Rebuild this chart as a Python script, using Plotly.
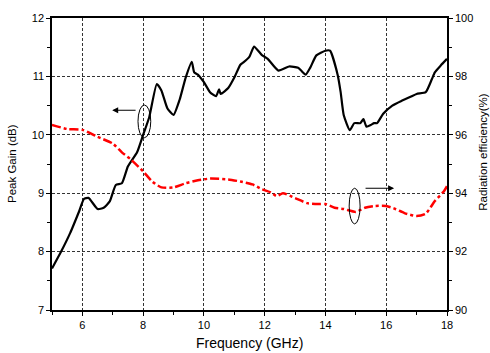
import plotly.graph_objects as go

freq_gain = [5.0, 5.3, 5.6, 5.9, 6.05, 6.2, 6.5, 6.7, 6.9, 7.1, 7.3, 7.5, 7.8, 8.0, 8.2, 8.45, 8.6, 8.8, 9.0, 9.2, 9.4, 9.6, 9.68, 9.8, 10.0, 10.2, 10.4, 10.5, 10.55,
             10.8, 11.0, 11.2, 11.3, 11.5, 11.65, 11.9, 12.1, 12.45, 12.8, 13.1, 13.2, 13.35, 13.5, 13.7, 14.0, 14.15, 14.4, 14.5, 14.6,
             14.8, 14.95, 15.15, 15.25, 15.35, 15.5, 15.6, 15.7, 15.9, 16.2, 16.5, 16.8, 17.0, 17.3, 17.5, 17.6, 17.8, 18.0]
peak_gain = [7.71, 8.0, 8.32, 8.7, 8.9, 8.92, 8.73, 8.75, 8.86, 9.14, 9.17, 9.46, 9.7, 10.0, 10.3, 10.87, 10.76, 10.45, 10.34, 10.6, 10.98, 11.25, 11.07, 11.03, 10.9, 10.73, 10.66, 10.78, 10.7,
             10.8, 10.98, 11.2, 11.24, 11.34, 11.51, 11.37, 11.3, 11.1, 11.17, 11.15, 11.1, 11.03, 11.15, 11.36, 11.44, 11.44, 11.03, 10.73, 10.34,
             10.08, 10.2, 10.2, 10.27, 10.14, 10.17, 10.2, 10.2, 10.36, 10.5, 10.58, 10.65, 10.7, 10.73, 10.95, 11.07, 11.19, 11.3]

freq_eff = [5.0, 5.5, 6.0, 6.5, 7.0, 7.3, 7.6, 8.0, 8.3, 8.6, 9.0, 9.4, 9.8, 10.2, 10.8, 11.2, 11.6, 11.9, 12.2, 12.4, 12.6,
            13.0, 13.4, 13.8, 14.0, 14.3, 14.6, 15.0, 15.3, 15.6, 16.0, 16.3, 16.6, 17.0, 17.3, 17.6, 17.9, 18.0]
efficiency = [96.34, 96.2, 96.17, 95.93, 95.7, 95.4, 95.15, 94.75, 94.4, 94.2, 94.2, 94.34, 94.44, 94.5, 94.47, 94.4, 94.3, 94.14, 94.03, 93.9, 94.0,
              93.83, 93.66, 93.63, 93.63, 93.5, 93.46, 93.36, 93.5, 93.56, 93.56, 93.46, 93.32, 93.22, 93.3, 93.73, 94.07, 94.24]

x_ticks = [6, 8, 10, 12, 14, 16, 18]
FONT = "Liberation Sans, Arial, sans-serif"

fig = go.Figure()
fig.add_trace(go.Scatter(x=freq_gain, y=peak_gain, mode="lines", line=dict(color="black", width=2.2, shape="spline", smoothing=0.5),
                         showlegend=False))
fig.add_trace(go.Scatter(x=freq_eff, y=efficiency, yaxis="y2", mode="lines",
                         line=dict(color="red", width=2.5, dash="dashdot", shape="spline", smoothing=0.6), showlegend=False))

axis_common = dict(showline=True, linecolor="black", linewidth=1.5, ticks="outside", ticklen=4, tickcolor="black",
                   tickfont=dict(family=FONT, size=11, color="black"), zeroline=False)
grid = dict(showgrid=True, gridcolor="#333", griddash="3px,2px", gridwidth=0.8)

fig.update_layout(
    width=490, height=353,
    margin=dict(l=52, r=43, t=15, b=43),
    paper_bgcolor="white", plot_bgcolor="white",
    font=dict(family=FONT, color="black"),
    xaxis=dict(range=[5, 18], tickvals=x_ticks, **grid,
               minor=dict(dtick=1, ticklen=3, tickcolor="black", showgrid=False), mirror=True, **axis_common),
    yaxis=dict(range=[7, 12], dtick=1, **grid,
               minor=dict(dtick=0.5, ticklen=3, tickcolor="black", showgrid=False), **axis_common),
    yaxis2=dict(range=[90, 100], dtick=2, overlaying="y", side="right", showgrid=False,
                minor=dict(dtick=1, ticklen=3, tickcolor="black", showgrid=False), **axis_common),
)

# axis titles
fig.add_annotation(text="Frequency (GHz)", xref="paper", yref="paper", x=0.5, y=0, yshift=-33, showarrow=False,
                   font=dict(size=14, family=FONT), yanchor="middle")
fig.add_annotation(text="Peak Gain (dB)", xref="paper", yref="paper", x=0, y=0.5, xshift=-40, textangle=-90, showarrow=False,
                   font=dict(size=11.5, family=FONT), xanchor="center")
fig.add_annotation(text="Radiation efficiency(%)", xref="paper", yref="paper", x=1, y=0.542, xshift=36, textangle=-90, showarrow=False,
                   font=dict(size=11.5, family=FONT), xanchor="center")

# ellipses and arrows
fig.add_shape(type="circle", xref="x", yref="y", x0=7.83, x1=8.25, y0=9.95, y1=10.51, line=dict(color="black", width=1))
fig.add_annotation(x=6.98, y=10.42, ax=7.8, ay=10.42, xref="x", yref="y", axref="x", ayref="y", text="", showarrow=True,
                   arrowhead=2, arrowsize=1, arrowwidth=1.2, arrowcolor="black")
fig.add_shape(type="circle", xref="x", yref="y2", x0=14.78, x1=15.14, y0=92.95, y1=94.17, line=dict(color="black", width=1))
fig.add_annotation(x=16.26, y=94.17, ax=15.27, ay=94.17, xref="x", yref="y2", axref="x", ayref="y2", text="", showarrow=True,
                   arrowhead=2, arrowsize=1, arrowwidth=1.2, arrowcolor="black")

fig.write_html("out.html")
